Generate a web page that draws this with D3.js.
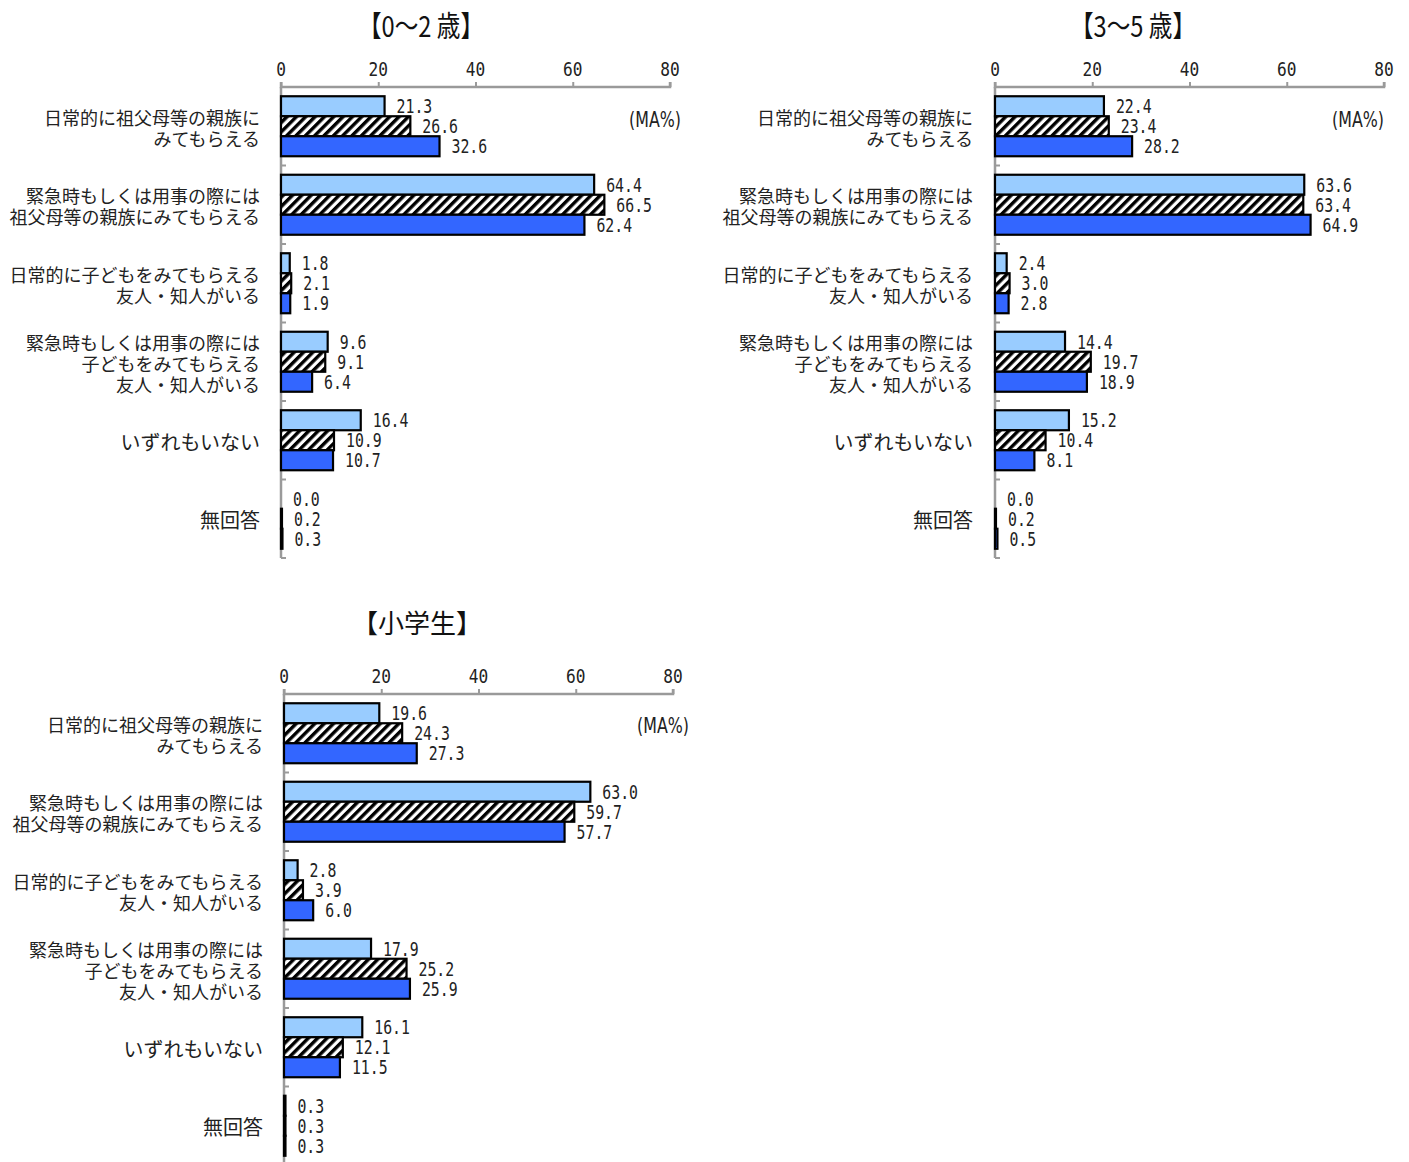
<!DOCTYPE html>
<html><head><meta charset="utf-8">
<script src="https://cdn.jsdelivr.net/npm/d3@7"></script>
<style>
body{margin:0;background:#fff;}
svg{display:block;}
</style></head>
<body>
<svg id="chart" width="1409" height="1162"></svg>
<script>
// ---- data ----
const categories = [
  ["日常的に祖父母等の親族に","みてもらえる"],
  ["緊急時もしくは用事の際には","祖父母等の親族にみてもらえる"],
  ["日常的に子どもをみてもらえる","友人・知人がいる"],
  ["緊急時もしくは用事の際には","子どもをみてもらえる","友人・知人がいる"],
  ["いずれもいない"],
  ["無回答"]
];
const panelTitles = ["【0～2 歳】", "【3～5 歳】", "【小学生】"];
const tickValues = [0, 20, 40, 60, 80];
const unitLabel = "(MA%)";
const seriesNames = ["series1", "series2", "series3"];
// values per panel: [series1, series2, series3] for each category
const age0to2 = {
  series1: [21.3, 64.4, 1.8, 9.6, 16.4, 0.0],
  series2: [26.6, 66.5, 2.1, 9.1, 10.9, 0.2],
  series3: [32.6, 62.4, 1.9, 6.4, 10.7, 0.3]
};
const age3to5 = {
  series1: [22.4, 63.6, 2.4, 14.4, 15.2, 0.0],
  series2: [23.4, 63.4, 3.0, 19.7, 10.4, 0.2],
  series3: [28.2, 64.9, 2.8, 18.9, 8.1, 0.5]
};
const elementary = {
  series1: [19.6, 63.0, 2.8, 17.9, 16.1, 0.3],
  series2: [24.3, 59.7, 3.9, 25.2, 12.1, 0.3],
  series3: [27.3, 57.7, 6.0, 25.9, 11.5, 0.3]
};
const panelData = [age0to2, age3to5, elementary];

// ---- layout / style ----
const layouts = [
  {x0: 281, x1: 670, axisY: 87, labelRight: 260, titleX: 421, titleY: 24, maX: 681, maY: 119, condensedTitle: true},
  {x0: 995, x1: 1384, axisY: 87, labelRight: 973, titleX: 1133, titleY: 24, maX: 1384, maY: 119, condensedTitle: true},
  {x0: 284, x1: 673, axisY: 694, labelRight: 263, titleX: 417, titleY: 621, maX: 689, maY: 725, condensedTitle: false}
];
const groupStep = 78.5;
const barH = 20;
const fills = ["#99CCFF", "url(#hatch)", "#3366FF"];
const numFont = "'DejaVu Sans Mono', monospace";
const jpFont = "'Noto Sans CJK JP', 'Noto Sans', sans-serif";

const svg = d3.select("#chart");
const defs = svg.append("defs");
const pat = defs.append("pattern").attr("id", "hatch")
  .attr("patternUnits", "userSpaceOnUse").attr("width", 6.6).attr("height", 6.6)
  .attr("patternTransform", "rotate(45)");
pat.append("rect").attr("width", 6.6).attr("height", 6.6).attr("fill", "#fff");
pat.append("rect").attr("width", 3.4).attr("height", 6.6).attr("fill", "#000");

function condensedText(g, x, y, txt, opts) {
  const t = g.append("g").attr("transform", `translate(${x},${y}) scale(${opts.sx},1)`);
  t.append("text").attr("x", 0).attr("y", 0)
    .attr("text-anchor", opts.anchor || "start")
    .attr("dominant-baseline", opts.baseline || "alphabetic")
    .style("font-family", opts.font || numFont)
    .style("font-size", opts.size + "px")
    .attr("fill", opts.fill || "#222")
    .text(txt);
  return t;
}

panelData.forEach((data, pi) => {
  const L = layouts[pi];
  const g = svg.append("g");
  const x = d3.scaleLinear().domain([0, 80]).range([L.x0, L.x1]);
  const y = d3.scaleBand().domain(d3.range(categories.length))
    .range([L.axisY, L.axisY + groupStep * categories.length]).paddingInner(0).paddingOuter(0);
  const sub = d3.scaleBand().domain(seriesNames).range([0, barH * 3]);
  const bandOffset = (groupStep - barH * 3) / 2;

  // title
  if (L.condensedTitle) {
    g.append("text").attr("x", L.titleX).attr("y", L.titleY)
      .attr("text-anchor", "middle").attr("dominant-baseline", "central")
      .attr("textLength", 126).attr("lengthAdjust", "spacingAndGlyphs")
      .style("font-family", jpFont).style("font-size", "29px").attr("fill", "#111")
      .text(panelTitles[pi]);
  } else {
    g.append("text").attr("x", L.titleX).attr("y", L.titleY)
      .attr("text-anchor", "middle").attr("dominant-baseline", "central")
      .style("font-family", jpFont).style("font-size", "26px").attr("fill", "#111")
      .text(panelTitles[pi]);
  }

  // top axis
  const axis = d3.axisTop(x).tickValues(tickValues).tickSize(5).tickPadding(4)
    .tickFormat(d3.format("d"));
  const ag = g.append("g").attr("transform", `translate(0,${L.axisY})`).call(axis);
  ag.select(".domain").attr("stroke", "#9a9a9a").attr("stroke-width", 2.5).attr("d", `M${L.x0},-5V0H${L.x1}V-5`);
  ag.selectAll(".tick line").attr("stroke", "#9a9a9a").attr("stroke-width", 2);
  ag.selectAll(".tick text").remove();
  tickValues.forEach(v => {
    condensedText(g, x(v), L.axisY - 11, String(v), {sx: 0.85, size: 19, anchor: "middle"});
  });

  // left axis
  const yEnd = L.axisY + groupStep * categories.length;
  g.append("line").attr("x1", L.x0).attr("x2", L.x0).attr("y1", L.axisY).attr("y2", yEnd)
    .attr("stroke", "#9a9a9a").attr("stroke-width", 2.5);
  d3.range(1, categories.length + 1).forEach(i => {
    const yy = L.axisY + groupStep * i;
    g.append("line").attr("x1", L.x0).attr("x2", L.x0 + 5).attr("y1", yy).attr("y2", yy)
      .attr("stroke", "#9a9a9a").attr("stroke-width", 2);
  });

  // category labels
  categories.forEach((lines, ci) => {
    const cy = y(ci) + y.bandwidth() / 2 + 1;
    const lh = 21;
    const fs = lines.length === 1 ? 20 : 18;
    lines.forEach((ln, li) => {
      g.append("text").attr("text-anchor", "end")
        .style("font-family", jpFont).style("font-size", fs + "px").attr("fill", "#222")
        .attr("x", L.labelRight)
        .attr("y", cy + (li - (lines.length - 1) / 2) * lh)
        .attr("dominant-baseline", "central").text(ln);
    });
  });

  // bars
  seriesNames.forEach((s, si) => {
    const vals = data[s];
    g.append("g").selectAll("rect").data(vals).join("rect")
      .attr("x", x(0))
      .attr("y", (d, i) => y(i) + bandOffset + sub(s))
      .attr("width", d => x(d) - x(0))
      .attr("height", sub.bandwidth())
      .attr("fill", fills[si])
      .attr("stroke", d => d > 0 ? "#000" : "none")
      .attr("stroke-width", 2.2);
    vals.forEach((v, i) => {
      const by = y(i) + bandOffset + sub(s) + sub.bandwidth() / 2;
      condensedText(g, x(v) + 12, by + 7, v.toFixed(1), {sx: 0.78, size: 19});
    });
  });

  // unit label
  condensedText(g, L.maX, L.maY + 8, unitLabel, {sx: 0.72, size: 22, anchor: "end", font: "'DejaVu Sans', sans-serif"});
});
</script>
</body></html>
